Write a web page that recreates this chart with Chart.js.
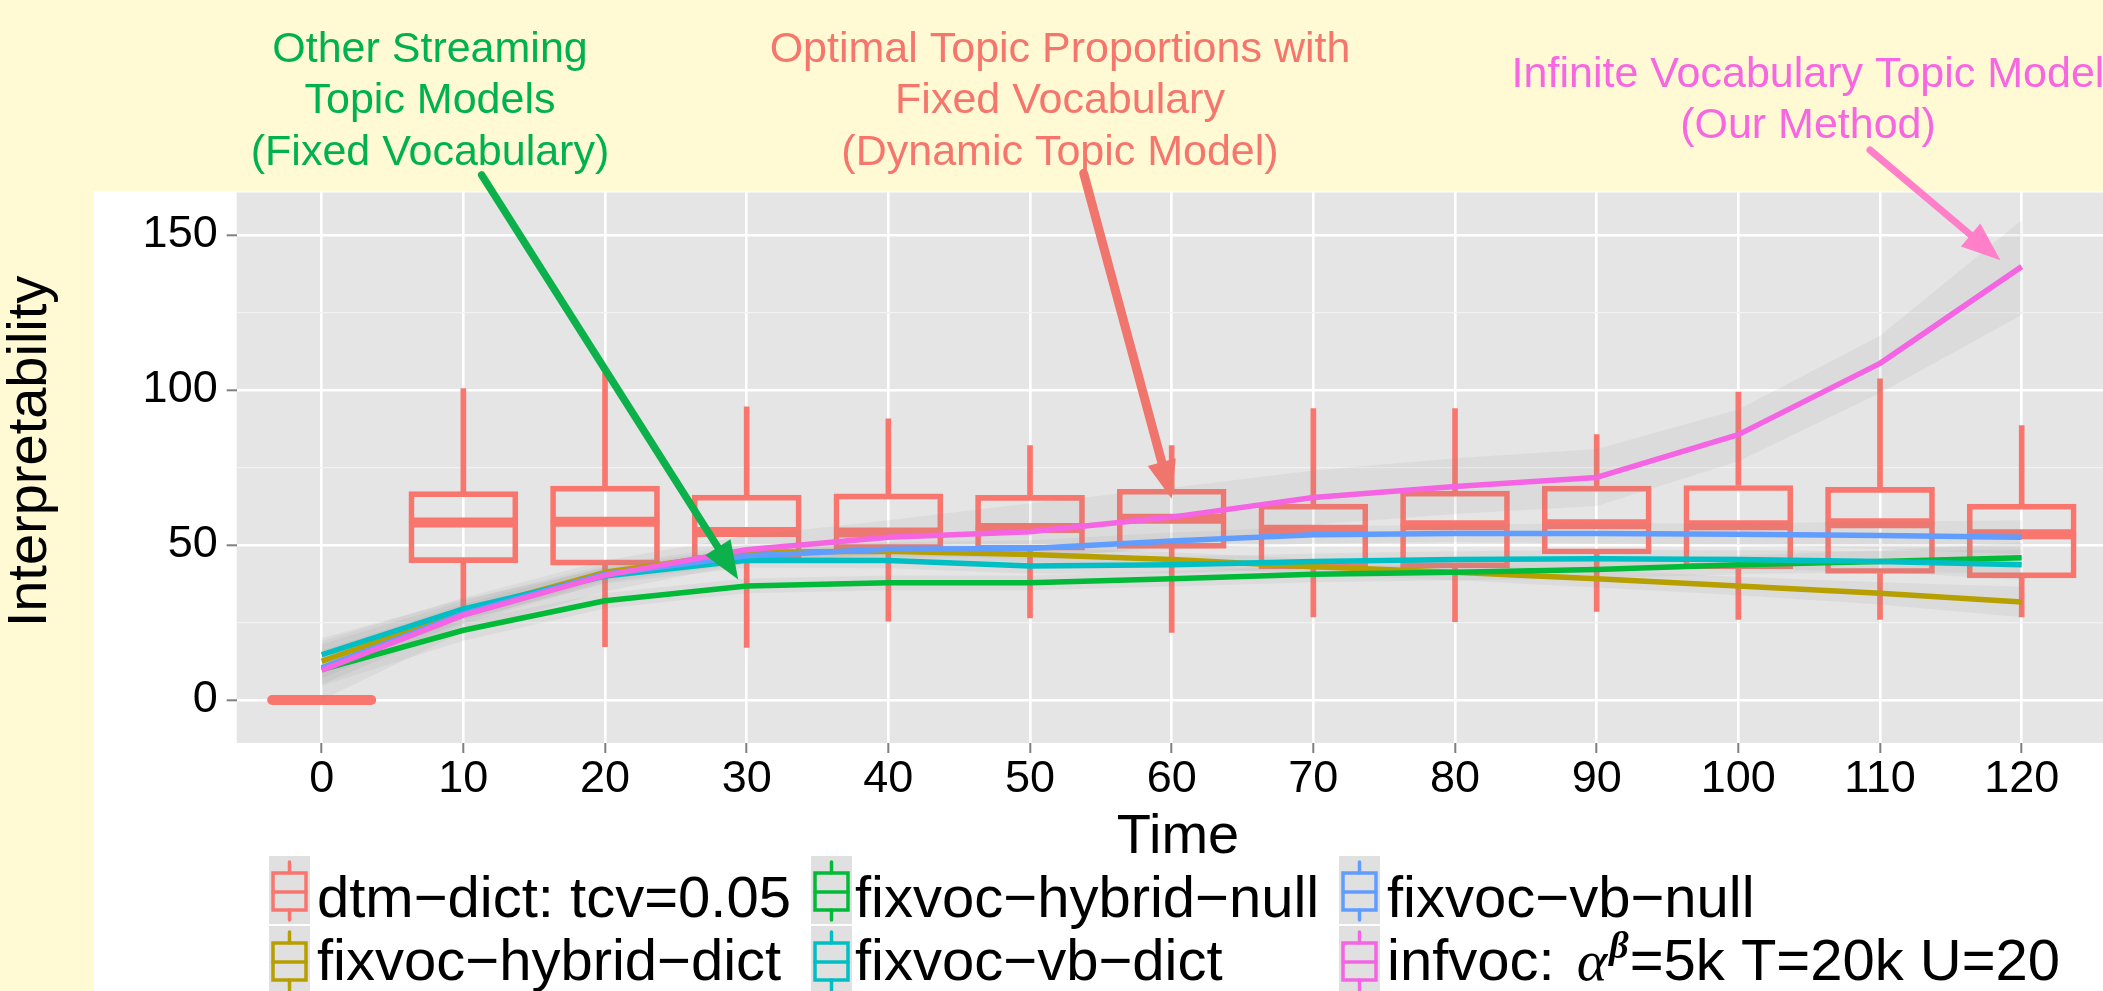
<!DOCTYPE html>
<html>
<head>
<meta charset="utf-8">
<script src="https://cdn.jsdelivr.net/npm/chart.js@4.4.1/dist/chart.umd.min.js"></script>
<style>
html,body{margin:0;padding:0;background:#FFF9D4;overflow:hidden;width:2103px;height:991px}
canvas{display:block}
</style>
</head>
<body>
<canvas id="c" width="2103" height="991"></canvas>
<script>
// ---------- data ----------
const times = [0, 10, 20, 30, 40, 50, 60, 70, 80, 90, 100, 110, 120];
const xTickLabels = ['0','10','20','30','40','50','60','70','80','90','100','110','120'];
const yTickValues = [0, 50, 100, 150];
const yMinorValues = [25, 75, 125];

// dtm-dict: tcv=0.05 (boxplot)
const dtmWhiskerLow  = [0, 29.0, 17.2, 17.0, 25.4, 26.5, 21.8, 26.8, 25.3, 28.6, 26.0, 26.0, 26.8];
const dtmQ1          = [0, 44.3, 43.5, 45.0, 48.5, 48.3, 48.9, 42.4, 42.6, 47.1, 42.4, 40.8, 39.4];
const dtmMedian      = [0, 57.3, 57.5, 54.2, 54.0, 55.5, 58.5, 54.9, 56.4, 56.7, 56.4, 57.0, 53.5];
const dtmQ3          = [0, 67.2, 69.0, 66.1, 66.5, 66.0, 68.0, 63.2, 67.4, 69.0, 69.2, 68.6, 63.2];
const dtmWhiskerHigh = [0, 100.5, 105.6, 94.6, 90.7, 82.1, 82.1, 94.0, 94.0, 85.6, 99.3, 103.6, 88.5];

// smoothed lines and their confidence bands
const hybridDict     = [12.5, 28.6, 41.2, 47.7, 48.0, 46.9, 45.3, 43.0, 41.2, 39.1, 36.8, 34.4, 31.6];
const hybridDictLow  = [7.0, 25.2, 38.7, 45.4, 45.5, 44.5, 42.9, 40.5, 38.6, 36.3, 33.8, 30.8, 26.7];
const hybridDictHigh = [18.0, 32.0, 43.7, 50.0, 50.5, 49.3, 47.7, 45.5, 43.8, 41.9, 39.8, 38.0, 36.5];

const hybridNull     = [9.8, 22.5, 32.0, 36.8, 37.8, 37.8, 39.1, 40.6, 41.2, 42.1, 43.6, 44.7, 45.9];
const hybridNullLow  = [4.6, 19.1, 29.5, 34.4, 35.4, 35.4, 36.6, 38.0, 38.6, 39.3, 40.6, 41.2, 41.0];
const hybridNullHigh = [15.0, 25.5, 34.5, 39.2, 40.2, 40.2, 41.6, 43.2, 43.8, 44.9, 46.6, 48.2, 50.8];

const vbDict         = [14.6, 29.4, 40.0, 45.1, 45.0, 43.2, 43.6, 44.7, 45.3, 45.6, 45.3, 44.7, 43.6];
const vbDictLow      = [9.0, 26.0, 37.5, 42.7, 42.5, 40.7, 41.0, 42.1, 42.6, 42.8, 42.3, 41.4, 38.7];
const vbDictHigh     = [20.0, 32.5, 42.5, 47.5, 47.5, 45.7, 46.2, 47.3, 48.0, 48.4, 48.3, 48.0, 48.5];

const vbNull         = [10.4, 27.8, 40.6, 46.5, 48.6, 48.9, 51.3, 53.3, 53.7, 53.7, 53.5, 53.1, 52.5];
const vbNullLow      = [5.0, 24.5, 38.0, 44.0, 46.0, 46.5, 48.5, 50.5, 51.0, 50.5, 50.0, 48.7, 47.0];
const vbNullHigh     = [16.0, 31.0, 43.0, 49.0, 51.0, 51.5, 54.0, 56.0, 56.5, 57.0, 57.0, 57.5, 58.0];

const infvoc         = [9.6, 27.4, 40.2, 48.5, 52.5, 54.3, 59.0, 65.3, 68.9, 71.8, 85.6, 108.6, 139.8];
const infvocLow      = [0.0, 22.0, 35.0, 44.0, 47.0, 45.5, 49.5, 56.5, 60.0, 62.6, 77.0, 99.0, 124.2];
const infvocHigh     = [19.0, 33.0, 45.0, 53.0, 58.0, 63.5, 68.5, 74.0, 78.0, 81.0, 93.7, 117.5, 154.8];

// legend (ggplot column-major order)
const legendLabels = ['dtm\u2212dict: tcv=0.05', 'fixvoc\u2212hybrid\u2212dict', 'fixvoc\u2212hybrid\u2212null',
                      'fixvoc\u2212vb\u2212dict', 'fixvoc\u2212vb\u2212null', 'infvoc: '];
const seriesColors = ['#F8766D', '#B79F00', '#00BA38', '#00BFC4', '#619CFF', '#F564E3'];

// annotations (tips in data units)
const annoGreenText = ['Other Streaming', 'Topic Models', '(Fixed Vocabulary)'];
const annoRedText   = ['Optimal Topic Proportions with', 'Fixed Vocabulary', '(Dynamic Topic Model)'];
const annoPinkText  = ['Infinite Vocabulary Topic Model', '(Our Method)'];
const arrowTips = [[29.4, 38.9], [60.0, 64.9], [118.5, 141.9]];
const xTitle = 'Time';

// ---------- styling ----------
const FONT = '"Liberation Sans", Arial, Helvetica, sans-serif';
const YELLOW = '#FFF9D4';
const BOX_W = 109;
const xAxisMin = -6.0, xAxisMax = 125.74;
const yAxisMin = -13.87, yAxisMax = 174.2;

const pts = (arr) => times.map((t, i) => ({x: t, y: arr[i]}));
const rng = (a, b) => times.map((t, i) => ({x: t, y: [a[i], b[i]]}));

const lineDefs = [
  {data: infvoc, lo: infvocLow, hi: infvocHigh, color: seriesColors[5]},
  {data: vbNull, lo: vbNullLow, hi: vbNullHigh, color: seriesColors[4]},
  {data: vbDict, lo: vbDictLow, hi: vbDictHigh, color: seriesColors[3]},
  {data: hybridNull, lo: hybridNullLow, hi: hybridNullHigh, color: seriesColors[2]},
  {data: hybridDict, lo: hybridDictLow, hi: hybridDictHigh, color: seriesColors[1]},
];

const datasets = [];
// boxes
datasets.push({type: 'bar', boxRole: 'box', data: rng(dtmQ1, dtmQ3), barThickness: BOX_W, borderWidth: 5,
  borderColor: seriesColors[0], backgroundColor: 'rgba(0,0,0,0)', borderSkipped: false, grouped: false, order: 20});
datasets.push({type: 'bar', data: rng(dtmWhiskerLow, dtmQ1), barThickness: 5, borderWidth: 0,
  backgroundColor: seriesColors[0], grouped: false, order: 21});
datasets.push({type: 'bar', data: rng(dtmQ3, dtmWhiskerHigh), barThickness: 5, borderWidth: 0,
  backgroundColor: seriesColors[0], grouped: false, order: 21});
// ribbons
lineDefs.forEach((d) => {
  datasets.push({type: 'line', data: pts(d.lo), borderWidth: 0, pointRadius: 0, fill: false, order: 10, tension: 0});
  datasets.push({type: 'line', data: pts(d.hi), borderWidth: 0, pointRadius: 0, fill: '-1',
    backgroundColor: 'rgba(150,150,150,0.11)', order: 10, tension: 0});
});
// lines
lineDefs.forEach((d, k) => {
  datasets.push({type: 'line', data: pts(d.data), borderColor: d.color, borderWidth: 5.5, pointRadius: 0,
    fill: false, tension: 0, borderJoinStyle: 'round', borderCapStyle: 'butt', order: 1 + k});
});

const bgPlugin = {
  id: 'bg',
  beforeDraw(chart) {
    const {ctx, chartArea: a} = chart;
    ctx.save();
    ctx.fillStyle = YELLOW; ctx.fillRect(0, 0, chart.width, chart.height);
    ctx.fillStyle = '#FFFFFF'; ctx.fillRect(94, 0, chart.width - 94, chart.height);
    ctx.fillStyle = '#E5E5E5'; ctx.fillRect(a.left, a.top, a.right - a.left, a.bottom - a.top);
    ctx.restore();
  }
};

const medianPlugin = {
  id: 'medians',
  afterDatasetDraw(chart, args) {
    if (chart.data.datasets[args.index].boxRole !== 'box') return;
    const {ctx, chartArea: a, scales: {x, y}} = chart;
    ctx.save();
    ctx.beginPath(); ctx.rect(a.left, a.top, a.right - a.left, a.bottom - a.top); ctx.clip();
    ctx.strokeStyle = seriesColors[0]; ctx.lineWidth = 10; ctx.lineCap = 'round';
    times.forEach((t, i) => {
      const px = x.getPixelForValue(t), py = y.getPixelForValue(dtmMedian[i]);
      ctx.beginPath(); ctx.moveTo(px - BOX_W / 2 + 5, py); ctx.lineTo(px + BOX_W / 2 - 5, py); ctx.stroke();
    });
    ctx.restore();
  }
};

function drawArrow(ctx, x0, y0, x1, y1, color, w, headLen, headHalf) {
  const dx = x1 - x0, dy = y1 - y0, L = Math.hypot(dx, dy);
  const ux = dx / L, uy = dy / L, nx = -uy, ny = ux;
  const bx = x1 - ux * headLen, by = y1 - uy * headLen;
  ctx.strokeStyle = color; ctx.fillStyle = color; ctx.lineWidth = w; ctx.lineCap = 'round';
  ctx.beginPath(); ctx.moveTo(x0, y0); ctx.lineTo(bx + ux * 3, by + uy * 3); ctx.stroke();
  ctx.beginPath(); ctx.moveTo(x1, y1);
  ctx.lineTo(bx + nx * headHalf, by + ny * headHalf);
  ctx.lineTo(bx - nx * headHalf, by - ny * headHalf);
  ctx.closePath(); ctx.fill();
}

const overlayPlugin = {
  id: 'overlay',
  afterDraw(chart) {
    const {ctx, scales: {x, y}} = chart;
    ctx.save();
    // slide banner covering the top of the plot
    ctx.fillStyle = YELLOW; ctx.fillRect(0, 0, chart.width, 191);
    ctx.fillStyle = '#FFFFFF'; ctx.fillRect(94, 191, chart.width - 94, 1.5);

    // x-axis title
    ctx.fillStyle = '#000'; ctx.font = '56px ' + FONT; ctx.textAlign = 'center'; ctx.textBaseline = 'alphabetic';
    ctx.fillText(xTitle, 1178, 853);

    // annotation texts
    ctx.font = '43px ' + FONT;
    ctx.fillStyle = '#00B14F';
    annoGreenText.forEach((s, i) => ctx.fillText(s, 430, 61.7 + i * 51.7));
    ctx.fillStyle = '#F4766C';
    annoRedText.forEach((s, i) => ctx.fillText(s, 1060, 61.7 + i * 51.7));
    ctx.fillStyle = '#F767E1';
    annoPinkText.forEach((s, i) => ctx.fillText(s, 1808, 86.7 + i * 51.7));

    // arrows
    const tip = (k) => [x.getPixelForValue(arrowTips[k][0]), y.getPixelForValue(arrowTips[k][1])];
    let t = tip(0); drawArrow(ctx, 481.7, 175, t[0], t[1], '#0DB14B', 7.5, 38, 15);
    t = tip(1); drawArrow(ctx, 1083.7, 173.3, t[0], t[1], '#F0766D', 9, 38, 14.5);
    t = tip(2); drawArrow(ctx, 1870, 150, t[0], t[1], '#FF7FC8', 7, 39, 15);

    // legend
    const keyX = [269, 811, 1339], textX = [317, 855, 1387];
    const keyY = [856, 926], baseY = [917, 980];
    ctx.textAlign = 'left'; ctx.textBaseline = 'alphabetic';
    for (let k = 0; k < 6; k++) {
      const col = Math.floor(k / 2), row = k % 2;
      const kx = keyX[col], ky = keyY[row];
      ctx.fillStyle = '#E0E0E0'; ctx.fillRect(kx, ky, 41, 68);
      ctx.strokeStyle = seriesColors[k]; ctx.lineWidth = 3.5; ctx.lineCap = 'round';
      ctx.strokeRect(kx + 4, ky + 17, 33, 37);
      ctx.beginPath();
      ctx.moveTo(kx + 4, ky + 36); ctx.lineTo(kx + 37, ky + 36);
      ctx.moveTo(kx + 20.5, ky + 6); ctx.lineTo(kx + 20.5, ky + 17);
      ctx.moveTo(kx + 20.5, ky + 54); ctx.lineTo(kx + 20.5, ky + 64);
      ctx.stroke();
      ctx.fillStyle = '#000';
      ctx.font = '58px ' + FONT;
      let tx = textX[col];
      ctx.fillText(legendLabels[k], tx, baseY[row]);
      if (k === 5) {
        tx += ctx.measureText(legendLabels[k]).width;
        ctx.font = 'italic 58px "Liberation Serif", serif';
        ctx.fillText('\u03B1', tx + 6, baseY[row]);
        tx += 6 + ctx.measureText('\u03B1').width;
        ctx.font = 'bold italic 38px "Liberation Serif", serif';
        ctx.fillText('\u03B2', tx + 2, baseY[row] - 22);
        tx += 2 + ctx.measureText('\u03B2').width;
        ctx.font = '58px ' + FONT;
        ctx.fillText('=5k T=20k U=20', tx + 1, baseY[row]);
      }
    }
    ctx.restore();
  }
};

new Chart(document.getElementById('c'), {
  type: 'line',
  data: {datasets},
  options: {
    responsive: false,
    animation: false,
    devicePixelRatio: 1,
    events: [],
    layout: {padding: {top: 160, left: 0, right: 0, bottom: 0}},
    plugins: {legend: {display: false}, tooltip: {enabled: false}},
    scales: {
      x: {
        type: 'linear', min: xAxisMin, max: xAxisMax, offset: false,
        afterBuildTicks: (s) => { s.ticks = times.map((v) => ({value: v})); },
        afterFit: (s) => { s.height = 248; },
        ticks: {callback: (v, i) => xTickLabels[i], font: {family: FONT, size: 45, lineHeight: 1.2},
                color: '#000', padding: 0, maxRotation: 0, autoSkip: false},
        grid: {offset: false, color: '#FFFFFF', lineWidth: 2.6, tickLength: 10, tickColor: '#7F7F7F', tickWidth: 2},
        border: {display: false},
        title: {display: false}
      },
      y: {
        type: 'linear', min: yAxisMin, max: yAxisMax,
        afterBuildTicks: (s) => { s.ticks = yTickValues.concat(yMinorValues).sort((a, b) => a - b).map((v) => ({value: v})); },
        afterFit: (s) => { s.width = 236.7; },
        ticks: {callback: (v) => (yTickValues.includes(v) ? String(v) : ''), font: {family: FONT, size: 45},
                color: '#000', padding: 9},
        grid: {
          offset: false,
          color: (c) => (yTickValues.includes(c.tick.value) ? '#FFFFFF' : '#F2F2F2'),
          lineWidth: (c) => (yTickValues.includes(c.tick.value) ? 2.6 : 1.3),
          tickColor: (c) => (yTickValues.includes(c.tick.value) ? '#7F7F7F' : 'rgba(0,0,0,0)'),
          tickLength: 10, tickWidth: 2
        },
        border: {display: false},
        title: {display: true, text: 'Interpretability', color: '#000', font: {family: FONT, size: 56, lineHeight: 1},
                padding: {top: 3, bottom: 0}}
      }
    }
  },
  plugins: [bgPlugin, medianPlugin, overlayPlugin]
});
</script>
</body>
</html>
